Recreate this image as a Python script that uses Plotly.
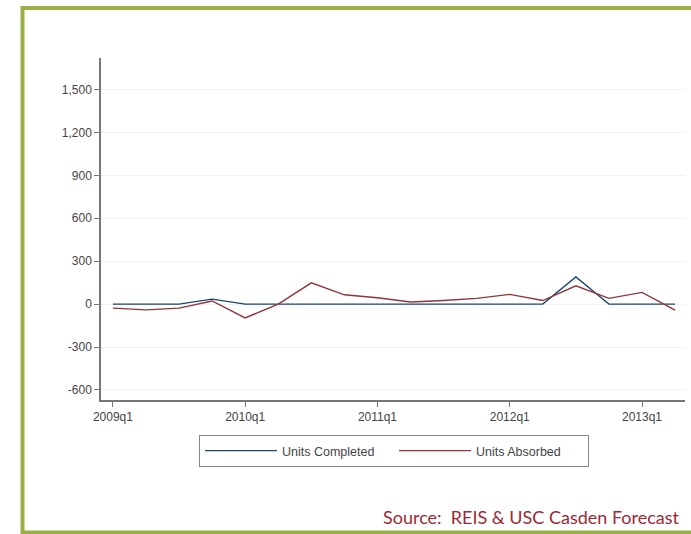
import plotly.graph_objects as go

quarters = list(range(18))
x_tick_vals = [0, 4, 8, 12, 16]
x_tick_text = ["2009q1", "2010q1", "2011q1", "2012q1", "2013q1"]
y_tick_vals = [-600, -300, 0, 300, 600, 900, 1200, 1500]
y_tick_text = ["-600", "-300", "0", "300", "600", "900", "1,200", "1,500"]
units_completed = [0, 0, 0, 35, 0, 0, 0, 0, 0, 0, 0, 0, 0, 0, 190, 0, 0, 0]
units_absorbed = [-28, -40, -28, 22, -96, 0, 149, 65, 45, 15, 25, 40, 68, 25, 128, 40, 82, -42]

W, H = 691, 534
L, R, T, B = 101, 6, 58, 134
pw, ph = W - L - R, H - T - B

def px(x):
    return (x - L) / pw

def py(y):
    return (H - B - y) / ph

fig = go.Figure()
fig.add_trace(go.Scatter(x=quarters, y=units_completed, mode="lines", name="Units Completed",
                         line=dict(color="#1a476f", width=1.4)))
fig.add_trace(go.Scatter(x=quarters, y=units_absorbed, mode="lines", name="Units Absorbed",
                         line=dict(color="#90353b", width=1.4)))

fig.update_layout(
    width=W, height=H,
    margin=dict(l=L, r=R, t=T, b=B),
    paper_bgcolor="white", plot_bgcolor="white",
    font=dict(family="Liberation Sans, Arial", size=12, color="#444"),
    showlegend=True,
    legend=dict(orientation="h", x=px(394), xanchor="center", y=py(435), yanchor="top",
                bordercolor="#888", borderwidth=1, bgcolor="white", itemwidth=72,
                font=dict(size=12.5, color="#444"), entrywidth=107, entrywidthmode="pixels"),
    xaxis=dict(range=[-0.36, 17.3], tickmode="array", tickvals=x_tick_vals, ticktext=x_tick_text,
               showgrid=False, zeroline=False, showline=True, linecolor="#777", linewidth=1.5,
               ticks="outside", ticklen=5, tickcolor="#777", tickfont=dict(size=12, color="#444")),
    yaxis=dict(range=[-670, 1720], tickmode="array", tickvals=y_tick_vals, ticktext=y_tick_text,
               showgrid=True, gridcolor="#eef3f3", gridwidth=1, zeroline=False,
               showline=True, linecolor="#777", linewidth=1.5,
               ticks="outside", ticklen=5, tickcolor="#777", tickfont=dict(size=12, color="#444")),
    shapes=[dict(type="rect", xref="paper", yref="paper",
                 x0=px(22.5), x1=px(760), y0=py(532.5), y1=py(8),
                 line=dict(color="#9aaf45", width=4), layer="above")],
    annotations=[dict(text="Source:  REIS &amp; USC Casden Forecast", xref="paper", yref="paper",
                      x=px(381), y=py(517), xanchor="left", yanchor="middle", showarrow=False,
                      font=dict(family="Lato, Open Sans", size=18, color="#9b2a35"))],
)

fig.write_html("out.html", config={"displayModeBar": False},
               post_script="document.body.style.margin='0';document.body.style.overflow='hidden';")
